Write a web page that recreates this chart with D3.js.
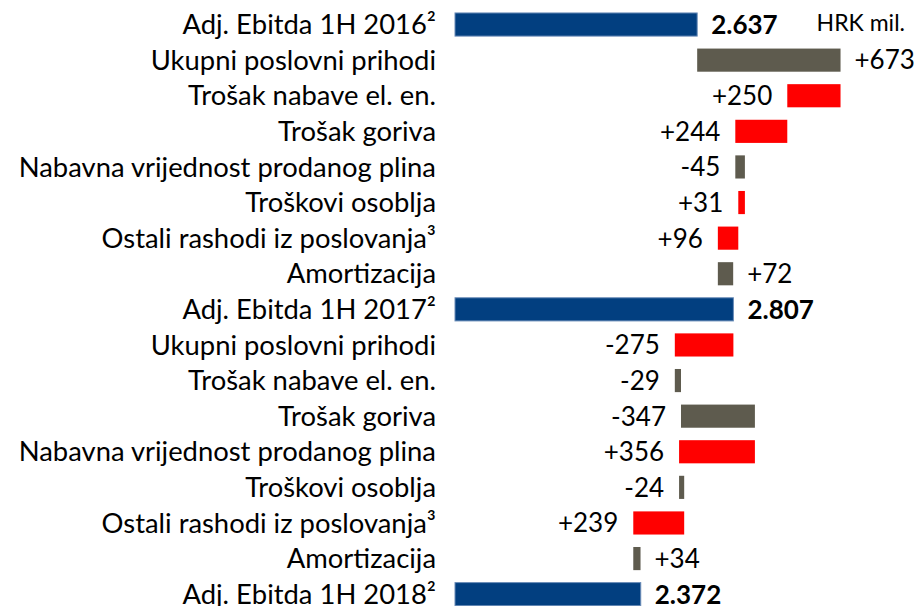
<!DOCTYPE html>
<html><head><meta charset="utf-8">
<script src="https://cdn.jsdelivr.net/npm/d3@7"></script>
<style>body{margin:0;background:#fff}svg{display:block}</style>
</head><body>
<svg id="c" width="917" height="606"></svg>
<script>
const categories = ["Adj. Ebitda 1H 2016²","Ukupni poslovni prihodi","Trošak nabave el. en.","Trošak goriva","Nabavna vrijednost prodanog plina","Troškovi osoblja","Ostali rashodi iz poslovanja³","Amortizacija","Adj. Ebitda 1H 2017²","Ukupni poslovni prihodi","Trošak nabave el. en.","Trošak goriva","Nabavna vrijednost prodanog plina","Troškovi osoblja","Ostali rashodi iz poslovanja³","Amortizacija","Adj. Ebitda 1H 2018²"];
// "total" rows hold the EBITDA level; other rows hold the effect on EBITDA
const kinds = ["total","delta","delta","delta","delta","delta","delta","delta","total","delta","delta","delta","delta","delta","delta","delta","total"];
const values = [2637, 673, -250, -244, 45, -31, -96, 72, 2807, -275, 29, 347, -356, 24, -239, 34, 2372];
const valueLabels = ["2.637","+673","+250","+244","-45","+31","+96","+72","2.807","-275","-29","-347","+356","-24","+239","+34","2.372"];
const labelRight = [true,true,false,false,false,false,false,true,true,false,false,false,false,false,false,true,true];
const unitLabel = "HRK mil.";
const axisMin = 1500, axisMax = 3500;

const svg = d3.select("#c");
const x = d3.scaleLinear().domain([axisMin, axisMax]).range([455, 881]);
const y = d3.scaleBand().domain(d3.range(categories.length)).range([0.5, 618.2]).padding(0.35);

let run = 0;
const rows = values.map((v, i) => {
  let a, b;
  if (kinds[i] === "total") { a = axisMin; b = v; run = v; }
  else { a = run; b = run + v; run = b; }
  return {i, v, lo: Math.min(a, b), hi: Math.max(a, b), kind: kinds[i]};
});
const color = d => d.kind === "total" ? "#023f80" : (d.v >= 0 ? "#5e5b4e" : "#ff0000");

svg.selectAll("rect.bar").data(rows).enter().append("rect")
  .attr("class","bar")
  .attr("x", d => x(d.lo)).attr("width", d => Math.max(1, x(d.hi) - x(d.lo)))
  .attr("y", d => y(d.i)).attr("height", y.bandwidth())
  .attr("fill", color)
  .attr("stroke", d => d.kind === "total" ? "#6a8cb8" : "none").attr("stroke-width", 1);

svg.selectAll("text.cat").data(categories).enter().append("text")
  .attr("class","cat")
  .attr("x", 436).attr("y", (d,i) => y(i) + y.bandwidth()/2)
  .attr("dy","0.35em").attr("text-anchor","end")
  .style("font-family","Lato, 'Open Sans', sans-serif").style("font-size","27.4px").attr("fill","#000")
  .text(d => d);

svg.selectAll("text.val").data(rows).enter().append("text")
  .attr("class","val")
  .attr("x", d => labelRight[d.i] ? x(d.hi) + 14 : x(d.lo) - 15)
  .attr("y", d => y(d.i) + y.bandwidth()/2)
  .attr("dy","0.36em").attr("text-anchor", d => labelRight[d.i] ? "start" : "end")
  .style("font-family","Lato, 'Open Sans', sans-serif").style("font-size","26px")
  .style("font-weight", d => d.kind === "total" ? "bold" : "normal").attr("fill","#000")
  .text(d => valueLabels[d.i]);

svg.append("text").attr("x", 905).attr("y", y(0) + y.bandwidth()/2).attr("dy","0.3em")
  .attr("text-anchor","end")
  .style("font-family","Lato, 'Open Sans', sans-serif").style("font-size","23px").attr("fill","#000")
  .text(unitLabel);
</script>
</body></html>
